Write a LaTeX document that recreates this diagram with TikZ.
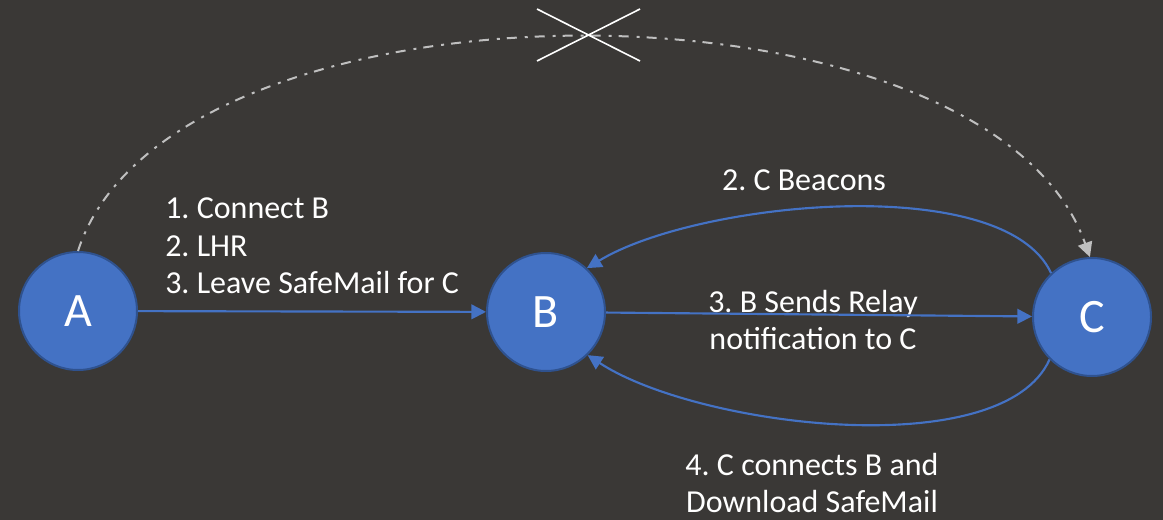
\documentclass[tikz,border=0pt]{standalone}
\usepackage{fontspec}
\setmainfont{Carlito}
\frenchspacing
\usetikzlibrary{arrows.meta}
\definecolor{bgdark}{RGB}{58,56,54}
\definecolor{nodeblue}{RGB}{68,114,196}
\definecolor{nodeedge}{RGB}{47,82,143}
\definecolor{hopgray}{RGB}{191,191,191}
\begin{document}
\begin{tikzpicture}[x=0.75pt,y=-0.75pt,>={Triangle[length=11pt,width=11pt]},
    peer/.style={circle,draw=nodeedge,line width=1.5pt,fill=nodeblue,minimum size=88.5pt,inner sep=0pt,text=white,font=\fontsize{36}{43}\selectfont},
    link/.style={->,nodeblue,line width=1.6pt},
    lbl/.style={text=white,font=\fontsize{24}{28}\selectfont,inner sep=0pt}]
    \fill[bgdark] (0,0) rectangle (1163,520);
    \useasboundingbox (0,0) rectangle (1163,520);
    \node[peer] (A) at (78,311) {A};
    \node[peer] (B) at (546,312) {B};
    \node[peer] (C) at (1092,317) {C};
    \node[lbl,anchor=west,align=left] (stepsA) at (165,246) {1. Connect B\\2. LHR\\3. Leave SafeMail for C};
    \node[lbl] (beacon) at (804,180) {2. C Beacons};
    \node[lbl,align=center] (relay) at (813,320) {3. B Sends Relay\\notification to C};
    \node[lbl,align=center] (fetch) at (812,483) {4. C connects B and\\Download SafeMail};
    \draw[link] (A) -- (B);
    \draw[link] (B) -- (C);
    \draw[link] (C.133) .. controls +(-47,-102) and +(110,-67) .. (B.47);
    \draw[link] (C.225) .. controls +(-47,105) and +(110,72) .. (B.-46);
    \draw[->,hopgray,line width=1.5pt,dash pattern=on 7.5pt off 6pt on 2.25pt off 5.25pt]
        (A.90) .. controls +(92,-286) and +(-103,-292) .. (C.92);
    \draw[white,line width=1.2pt] (537,9) -- (640,61);
    \draw[white,line width=1.2pt] (537,61) -- (640,9);
\end{tikzpicture}
\end{document}
